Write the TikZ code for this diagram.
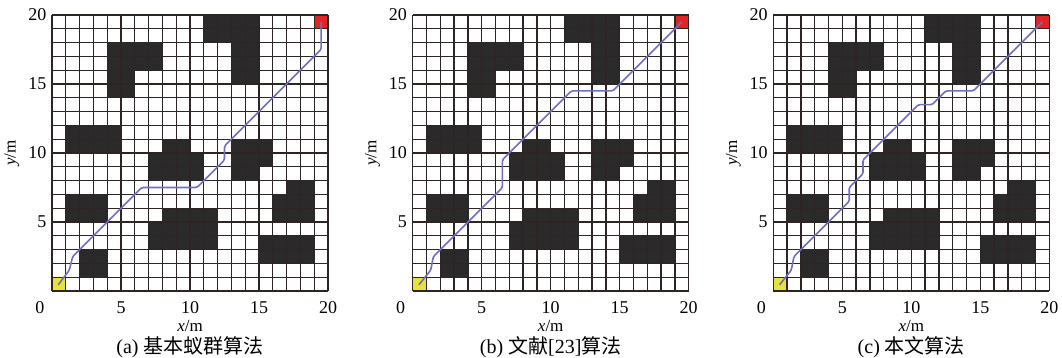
\documentclass[tikz,border=0pt]{standalone}
\usepackage{fontspec}
\setmainfont{Liberation Serif}
\newfontfamily\cjk{Noto Sans CJK SC}
\definecolor{obst}{RGB}{42,42,42}
\definecolor{gridc}{RGB}{45,36,36}
\definecolor{startc}{RGB}{232,226,62}
\definecolor{goalc}{RGB}{226,36,36}
\definecolor{pathc}{RGB}{112,110,190}
\tikzset{
  gridline/.style={draw=gridc, line width=1.25pt},
  ticklab/.style={inner sep=0pt, font=\fontsize{18}{18}\selectfont},
  axlab/.style={inner sep=0pt, font=\fontsize{17}{17}\selectfont},
  caplab/.style={inner sep=0pt, font=\fontsize{20}{20}\selectfont},
  route/.style={draw=pathc, line width=1.6pt, rounded corners=1.5pt, line join=round},
}
\newcommand\obstacles{%
  \fill[obst] (11,18) rectangle (15,20) (13,15) rectangle (15,18)
    (4,16) rectangle (8,18) (4,14) rectangle (6,16)
    (1,10) rectangle (5,12)
    (7,8) rectangle (11,10) (8,10) rectangle (10,11)
    (13,9) rectangle (16,11) (13,8) rectangle (15,9)
    (17,7) rectangle (19,8) (16,5) rectangle (19,7)
    (1,5) rectangle (4,7)
    (7,3) rectangle (12,5) (8,5) rectangle (12,6)
    (15,2) rectangle (19,4)
    (2,1) rectangle (4,3);}
\newcommand\panelbody[4]{%
  \begin{scope}[shift={(#2pt,67pt)}, x=13.8pt, y=13.8pt]
    \obstacles
    \fill[startc] (0,0) rectangle (1,1);
    \fill[goalc] (19,19) rectangle (20,20);
    \foreach \k in {0,...,20} {
      \draw[gridline] (\k,0) -- (\k,20);
      \draw[gridline] (0,\k) -- (20,\k);
    }
    \draw[route] #4;
    \node[ticklab, anchor=north] (#1xz) at (-0.87,-0.75) {0};
    \foreach \v in {5,10,15,20} {
      \node[ticklab, anchor=north] (#1x\v) at (\v,-0.75) {\v};
      \node[ticklab, anchor=east] (#1y\v) at (-0.4,\v) {\v};
    }
    \node[axlab, anchor=base] (#1xl) at (10,-2.9) {\textit{x}/m};
    \node[axlab, rotate=90] (#1yl) at (-2.9,10) {\textit{y}/m};
    \node[caplab, anchor=base] (#1cap) at (10,-4.5) {#3};
  \end{scope}}
\begin{document}
\begin{tikzpicture}[x=1pt,y=1pt]
  \useasboundingbox (0,0) rectangle (1062,358);
  \fill[white] (0,0) rectangle (1062,358);
  \panelbody{a}{52}{(a) {\cjk 基本蚁群算法}}{(0.45,0.45) -- (1.25,1.5) -- (1.5,2.5) -- (6.5,7.5) -- (10.5,7.5) -- (12.5,9.5) -- (12.5,10.5) -- (19.5,17.5) -- (19.5,19.5)}
  \panelbody{b}{412.7}{(b) {\cjk 文献}[23]{\cjk 算法}}{(0.45,0.45) -- (1.3,1.5) -- (1.5,2.5) -- (6.5,7.5) -- (6.5,9.5) -- (11.5,14.5) -- (14.5,14.5) -- (19.5,19.5)}
  \panelbody{c}{773.3}{(c) {\cjk 本文算法}}{(0.45,0.45) -- (1.3,1.5) -- (1.5,2.5) -- (5.5,6.5) -- (5.5,7.5) -- (6.5,8.5) -- (6.5,9.5) -- (10.5,13.5) -- (11.5,13.5) -- (12.5,14.5) -- (14.5,14.5) -- (19.5,19.5)}
\end{tikzpicture}
\end{document}
